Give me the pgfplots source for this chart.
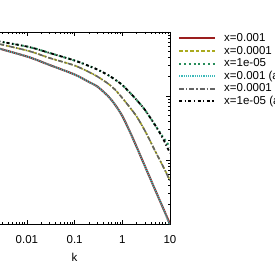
\documentclass[border=0pt]{standalone}
\usepackage{pgfplots}
\pgfplotsset{compat=1.18}
\usepackage{fontspec}
\setmainfont{Liberation Sans}
\definecolor{cred}{RGB}{155,30,30}
\definecolor{colive}{RGB}{170,170,30}
\definecolor{cgreen}{RGB}{40,140,90}
\definecolor{ccyan}{RGB}{60,185,185}
\definecolor{cgray}{RGB}{100,100,100}
\begin{document}
\begin{tikzpicture}
\begin{axis}[
  at={(170pt,233pt)}, anchor=north east,
  scale only axis, width=190.8pt, height=192pt,
  xmode=log, ymode=log,
  xmin=0.001, xmax=10, ymin=0.001, ymax=1,
  axis line style={line width=0.7pt},
  tick style={black, line width=0.6pt},
  major tick length=4.5pt, minor tick length=2.5pt,
  tick align=inside,
  xtick={0.001,0.01,0.1,1,10},
  xticklabels={,0.01,0.1,1,10},
  ytick={0.001,0.01,0.1,1},
  yticklabels={},
  ticklabel style={font=\fontsize{11.5}{13}\selectfont},
  xticklabel style={yshift=-8pt},
  xlabel={k},
  xlabel style={font=\fontsize{11.5}{13}\selectfont, yshift=-3pt},
  clip=true,
  legend cell align=left,
  legend style={at={(1,1)}, anchor=north west, xshift=8pt, yshift=-1.5pt,
    draw=none, fill=none, inner sep=0pt, row sep=3.3pt,
    font=\fontsize{11.5}{13}\selectfont,
    nodes={inner sep=0pt, text height=7.8pt, text depth=1.5pt},
    /tikz/every odd column/.append style={column sep=8pt}},
  legend image code/.code={\draw[#1] (0pt,0pt) -- (36pt,0pt);},
  every axis plot/.append style={smooth, tension=0.45},
]
\addplot[cred, line width=2pt] coordinates {
(0.001,0.6730) (0.01,0.4143) (0.03,0.3050) (0.1,0.2168) (0.2,0.1655) (0.3,0.1407)
(0.5,0.1000) (0.7,0.07365) (1,0.04870) (1.5,0.02595) (2,0.01596) (3,0.007916)
(5,0.003279) (7,0.001843) (10,0.001)};
\addlegendentry{x=0.001}
\addplot[colive, line width=1.6pt, dash pattern=on 3.5pt off 2pt] coordinates {
(0.001,0.7634) (0.01,0.5141) (0.03,0.3925) (0.1,0.2996) (0.2,0.2371) (0.3,0.2017)
(0.5,0.1567) (0.7,0.1264) (1,0.09306) (1.5,0.06378) (2,0.04783) (3,0.02839)
(5,0.01334) (7,0.008205) (10,0.00487)};
\addlegendentry{x=0.0001}
\addplot[cgreen, line width=2pt, dash pattern=on 2pt off 2.8pt] coordinates {
(0.001,0.8057) (0.01,0.5934) (0.03,0.4698) (0.1,0.3586) (0.2,0.2943) (0.3,0.2595)
(0.5,0.2129) (0.7,0.1810) (1,0.1485) (1.5,0.1094) (2,0.0866) (3,0.0604)
(5,0.0340) (7,0.02329) (10,0.01596)};
\addlegendentry{x=1e-05}
\addplot[ccyan, line width=1.8pt, dash pattern=on 1.1pt off 1.1pt] coordinates {
(0.001,0.6730) (0.01,0.4143) (0.03,0.3050) (0.1,0.2168) (0.2,0.1655) (0.3,0.1407)
(0.5,0.1000) (0.7,0.07365) (1,0.04870) (1.5,0.02595) (2,0.01596) (3,0.007916)
(5,0.003279) (7,0.001843) (10,0.00095)};
\addlegendentry{x=0.001 (approx.)}
\addplot[cgray, line width=1.6pt, dash pattern=on 5pt off 2pt on 1.2pt off 2pt] coordinates {
(0.001,0.7634) (0.01,0.5141) (0.03,0.3925) (0.1,0.2996) (0.2,0.2371) (0.3,0.2017)
(0.5,0.1567) (0.7,0.1264) (1,0.09306) (1.5,0.06378) (2,0.04783) (3,0.02839)
(5,0.01334) (7,0.008205) (10,0.00470)};
\addlegendentry{x=0.0001 (approx.)}
\addplot[black, line width=1.8pt, dash pattern=on 3pt off 2.5pt on 1.2pt off 2.5pt] coordinates {
(0.001,0.8057) (0.01,0.5934) (0.03,0.4698) (0.1,0.3586) (0.2,0.2943) (0.3,0.2595)
(0.5,0.2129) (0.7,0.1810) (1,0.1485) (1.5,0.1094) (2,0.0866) (3,0.0604)
(5,0.0340) (7,0.02207) (10,0.01286)};
\addlegendentry{x=1e-05 (approx.)}
\end{axis}
\pgfresetboundingbox
\path[use as bounding box] (0,0) rectangle (275pt,265pt);
\end{tikzpicture}
\end{document}
